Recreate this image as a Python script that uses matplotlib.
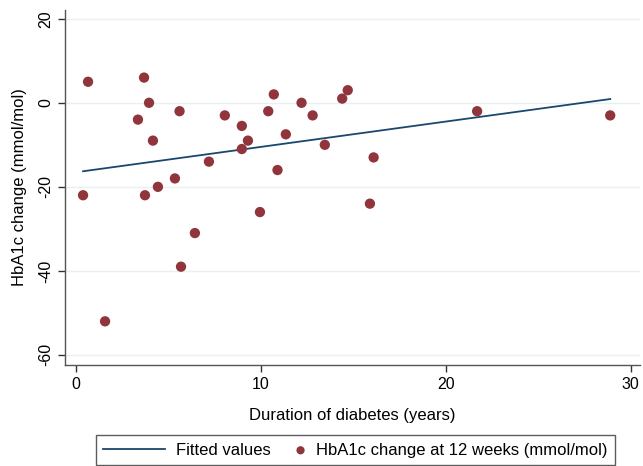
import matplotlib.pyplot as plt
import numpy as np
from matplotlib.legend_handler import HandlerPathCollection

plt.rcParams['font.family'] = ['Liberation Sans', 'DejaVu Sans']

# duration of diabetes (years) vs HbA1c change at 12 weeks (mmol/mol)
duration = [0.38, 0.65, 1.57, 3.35, 3.68, 3.73, 3.95, 4.16, 4.43, 5.35,
            5.6, 5.68, 6.43, 7.19, 8.05, 8.97, 8.97, 9.3, 9.95, 10.4,
            10.7, 10.9, 11.35, 12.2, 12.8, 13.46, 14.4, 14.7, 15.9, 16.1,
            21.7, 28.9]
hba1c_change = [-22, 5, -52, -4, 6, -22, 0, -9, -20, -18,
                -2, -39, -31, -14, -3, -5.5, -11, -9, -26, -2,
                2, -16, -7.5, 0, -3, -10, 1, 3, -24, -13,
                -2, -3]

xticks = [0, 10, 20, 30]
yticks = [20, 0, -20, -40, -60]


class NarrowMarker(HandlerPathCollection):
    # marker handle narrower than the line handle, like the Stata legend
    def legend_artist(self, legend, orig_handle, fontsize, handlebox):
        handlebox.width = 0.6 * fontsize
        return super().legend_artist(legend, orig_handle, fontsize, handlebox)


x = np.array(duration)
y = np.array(hba1c_change)
slope, intercept = np.polyfit(x, y, 1)
xfit = np.array([x.min(), x.max()])
yfit = intercept + slope * xfit

fig = plt.figure(figsize=(6.43, 4.66), dpi=100)
ax = fig.add_axes([0.101, 0.2167, 0.894, 0.762])

for t in yticks:
    ax.axhline(t, color='#e8f0f1', lw=1.0, zorder=0)

line, = ax.plot(xfit, yfit, color='#1a476f', lw=1.3, zorder=2)
pts = ax.scatter(x, y, s=55, color='#90353b', edgecolors='none', zorder=3)

ax.set_xlim(-0.6, 30.5)
ax.set_ylim(-62.4, 22.1)
ax.set_xticks(xticks)
ax.set_yticks(yticks)
ax.set_yticklabels([str(t) for t in yticks], rotation=90, va='center')
ax.tick_params(labelsize=11.5, length=5, width=1, color='#333333')

for s in ['top', 'right']:
    ax.spines[s].set_visible(False)
for s in ['left', 'bottom']:
    ax.spines[s].set_color('#555555')
    ax.spines[s].set_linewidth(1.0)

ax.set_xlabel('Duration of diabetes (years)', fontsize=12, labelpad=12)
ax.set_ylabel('HbA1c change (mmol/mol)', fontsize=12, labelpad=8)

leg = fig.legend([line, pts], ['Fitted values', 'HbA1c change at 12 weeks (mmol/mol)'],
                 loc='center', bbox_to_anchor=(0.553, 0.034), ncol=2,
                 fontsize=12, frameon=True, fancybox=False, edgecolor='#333333',
                 handlelength=3.7, handletextpad=0.65, columnspacing=1.5,
                 borderpad=0.45, markerscale=0.8,
                 handler_map={type(pts): NarrowMarker()})
leg.get_frame().set_linewidth(1.0)

fig.savefig('out.png', dpi=100)
